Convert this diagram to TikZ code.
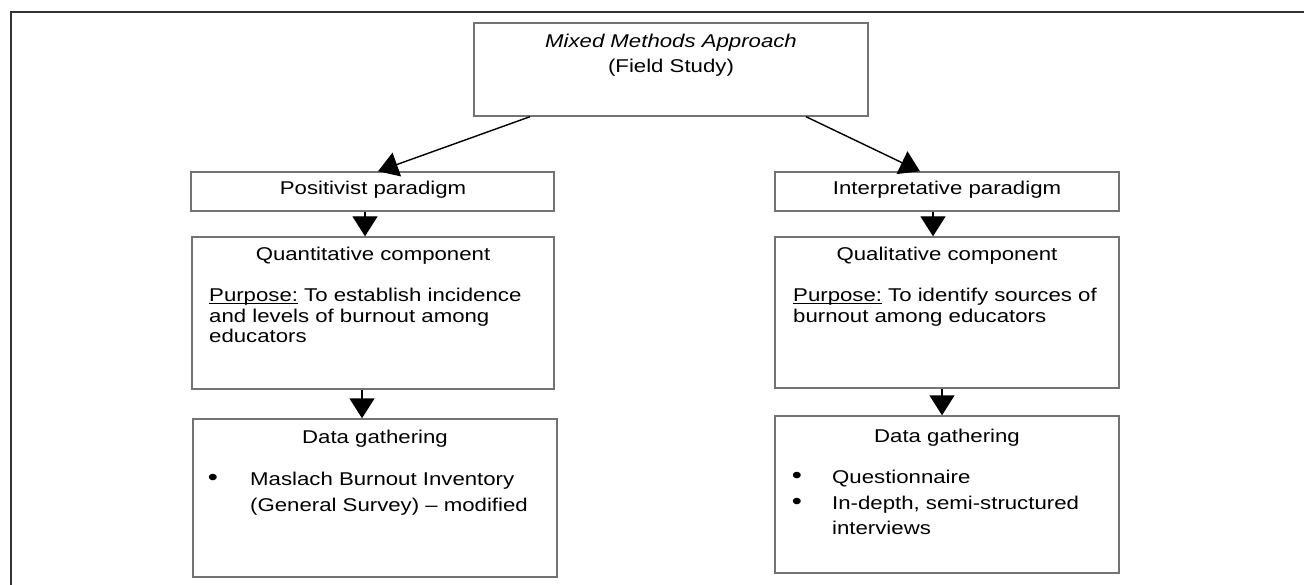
\documentclass[tikz,border=0pt]{standalone}
\usepackage{fontspec}
\setmainfont{Liberation Sans}[FakeStretch=1.2]
\usetikzlibrary{arrows.meta}
\newcommand\purp[1]{\setbox0\hbox{#1}\rlap{\rule[-2.2pt]{\wd0}{1pt}}\box0\relax}
\tikzset{
	box/.style={draw=black!55,line width=1.4pt,inner sep=0pt},
	txt/.style={inner sep=0pt,text=black,font=\fontsize{18.5}{21}\selectfont},
	arr/.style={line width=1.4pt,-{Triangle[width=25pt,length=20pt]}}
}
\begin{document}
\begin{tikzpicture}[x=1pt,y=-1pt]
	\useasboundingbox (0,0) rectangle (1304,585);
	\draw[line width=1.4pt,black!80] (11,585)--(11,12)--(1304,12);
	% boxes
	\node[box,minimum width=394pt,minimum height=93pt] (top) at (671,69.5){};
	\node[box,minimum width=363pt,minimum height=39pt] (pos) at (372.5,191.5){};
	\node[box,minimum width=362pt,minimum height=152pt] (quant) at (373,313){};
	\node[box,minimum width=364pt,minimum height=158pt] (dataL) at (375,498){};
	\node[box,minimum width=344pt,minimum height=39pt] (interp) at (947,191.5){};
	\node[box,minimum width=344pt,minimum height=151pt] (qual) at (947,312.5){};
	\node[box,minimum width=344pt,minimum height=157pt] (dataR) at (947,494.5){};
	% texts
	\node[txt,anchor=base] (t1) at (671,48){\itshape Mixed Methods Approach};
	\node[txt,anchor=base] (t2) at (671,73){(Field Study)};
	\node[txt,anchor=base] (posT) at (373,195){Positivist paradigm};
	\node[txt,anchor=base] (interpT) at (947,195){Interpretative paradigm};
	\node[txt,anchor=base] (quantT) at (373,261){Quantitative component};
	\node[txt,anchor=base] (qualT) at (947,261){Qualitative component};
	\node[txt,anchor=base west] (quantP1) at (209,302){\purp{Purpose:} To establish incidence};
	\node[txt,anchor=base west] (quantP2) at (209,323){and levels of burnout among};
	\node[txt,anchor=base west] (quantP3) at (209,343){educators};
	\node[txt,anchor=base west] (qualP1) at (793,302){\purp{Purpose:} To identify sources of};
	\node[txt,anchor=base west] (qualP2) at (793,323){burnout among educators};
	\node[txt,anchor=base] (dataLT) at (375,443){Data gathering};
	\node[txt,anchor=base] (dataRT) at (947,442){Data gathering};
	\node[txt,anchor=base] (bulL) at (213,485){\scalebox{1.3}{\textbullet}};
	\node[txt,anchor=base west] (dataL1) at (250,485){Maslach Burnout Inventory};
	\node[txt,anchor=base west] (dataL2) at (250,511){(General Survey) -- modified};
	\node[txt,anchor=base] (bulR1) at (797,483){\scalebox{1.3}{\textbullet}};
	\node[txt,anchor=base] (bulR2) at (797,509){\scalebox{1.3}{\textbullet}};
	\node[txt,anchor=base west] (dataR1) at (832,483){Questionnaire};
	\node[txt,anchor=base west] (dataR2) at (832,509){In-depth, semi-structured};
	\node[txt,anchor=base west] (dataR3) at (832,534){interviews};
	% arrows
	\draw[arr] ([xshift=-141pt]top.south)--([xshift=5.5pt]pos.north);
	\draw[arr] ([xshift=135pt]top.south)--([xshift=-27pt]interp.north);
	\draw[arr] ([xshift=-7.5pt]pos.south)--([xshift=-8pt]quant.north);
	\draw[arr] ([xshift=-11pt]quant.south)--([xshift=-13pt]dataL.north);
	\draw[arr] ([xshift=-14pt]interp.south)--([xshift=-14pt]qual.north);
	\draw[arr] ([xshift=-5pt]qual.south)--([xshift=-5pt]dataR.north);
\end{tikzpicture}
\end{document}
